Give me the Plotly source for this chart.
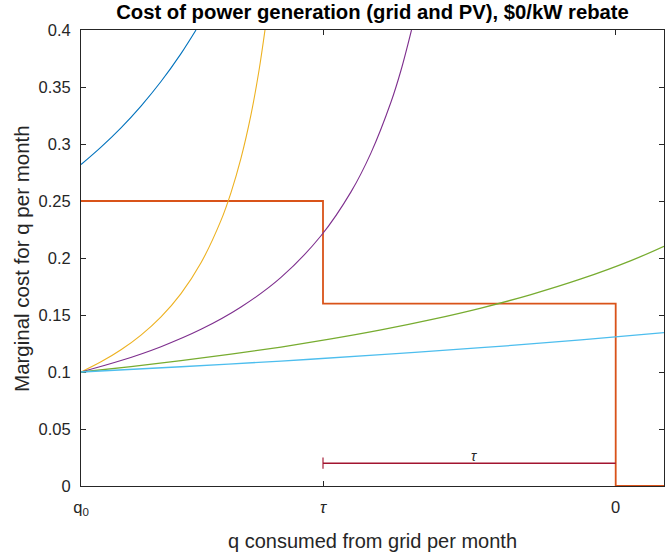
import plotly.graph_objects as go

# x positions (arbitrary q units; q0 on the left, 0 near the right)
X_Q0 = 0.0
X_TAU = 2.42
X_ZERO = 5.347
X_MAX = 5.83

tick_vals = [X_Q0, X_TAU, X_ZERO]
tick_text = ["q<sub>0</sub>", "<i>τ</i>", "0"]
y_tick_vals = [0, 0.05, 0.1, 0.15, 0.2, 0.25, 0.3, 0.35, 0.4]
y_tick_text = ["0", "0.05", "0.1", "0.15", "0.2", "0.25", "0.3", "0.35", "0.4"]

# series
blue_x = [0, 0.2, 0.4, 0.6, 0.8, 1.0, 1.15]
blue_y = [0.282, 0.2973, 0.3142, 0.3333, 0.3548, 0.3793, 0.400]

step_x = [X_Q0, X_TAU, X_TAU, X_ZERO, X_ZERO, X_MAX]
step_y = [0.25, 0.25, 0.16, 0.16, 0.0, 0.0]

yellow_x = [0, 0.2, 0.4, 0.6, 0.8, 1.0, 1.2, 1.4, 1.5, 1.6, 1.7, 1.78, 1.84]
yellow_y = [0.100, 0.1089, 0.1195, 0.1324, 0.1484, 0.1688, 0.1958, 0.2330,
            0.2574, 0.2876, 0.3258, 0.3645, 0.400]

purple_x = [0, 0.4, 0.8, 1.2, 1.6, 2.0, 2.4, 2.7, 2.9, 3.1, 3.2, 3.305]
purple_y = [0.100, 0.1100, 0.1222, 0.1374, 0.1570, 0.1830, 0.2195, 0.2580,
            0.2922, 0.3368, 0.3647, 0.400]

green_x = [0, 0.5, 1, 1.5, 2, 2.5, 3, 3.5, 4, 4.5, 5, 5.5, 5.83]
green_y = [0.100, 0.1047, 0.1099, 0.1156, 0.1219, 0.1290, 0.1369, 0.1459,
           0.1561, 0.1679, 0.1816, 0.1977, 0.2103]

cyan_x = [0, 1, 2, 3, 4, 5, 5.83]
cyan_y = [0.100, 0.1046, 0.1096, 0.1152, 0.1213, 0.1281, 0.1345]

tau_x = [X_TAU, X_ZERO]
tau_y = [0.02, 0.02]
tau_label = "τ"
tau_label_y = 0.026

C_BLUE = "#0072BD"
C_ORANGE = "#D95319"
C_YELLOW = "#EDB120"
C_PURPLE = "#7E2F8E"
C_GREEN = "#77AC30"
C_CYAN = "#4DBEEE"
C_DARKRED = "#A2142F"

FONT = "Liberation Sans, Arial, sans-serif"
AX = "#262626"

fig = go.Figure()

def add_line(x, y, color, width=1.1, shape="spline"):
    fig.add_trace(go.Scatter(x=x, y=y, mode="lines",
                             line=dict(color=color, width=width, shape=shape),
                             showlegend=False, hoverinfo="skip"))

add_line(blue_x, blue_y, C_BLUE)
add_line(step_x, step_y, C_ORANGE, width=1.8, shape="linear")
add_line(yellow_x, yellow_y, C_YELLOW)
add_line(purple_x, purple_y, C_PURPLE)
add_line(green_x, green_y, C_GREEN, width=1.3)
add_line(cyan_x, cyan_y, C_CYAN, width=1.3)

fig.add_trace(go.Scatter(
    x=tau_x, y=tau_y, mode="lines+markers",
    line=dict(color=C_DARKRED, width=1.6),
    marker=dict(symbol="line-ns", size=[8, 0], color=C_DARKRED,
                line=dict(color=C_DARKRED, width=1.6)),
    showlegend=False, hoverinfo="skip"))

fig.add_annotation(x=(X_TAU + X_ZERO) / 2, y=tau_label_y, xref="x", yref="y",
                   text="<i>" + tau_label + "</i>", showarrow=False,
                   xanchor="left", yanchor="middle",
                   font=dict(family=FONT, size=14, color=AX))

# axis titles
fig.add_annotation(x=0.5, y=-0.121, xref="paper", yref="paper",
                   text="q consumed from grid per month", showarrow=False,
                   xanchor="center", yanchor="middle",
                   font=dict(family=FONT, size=20, color=AX))
fig.add_annotation(x=-0.103, y=0.5, xref="paper", yref="paper",
                   text="Marginal cost for q per month", showarrow=False,
                   textangle=-90, xanchor="center", yanchor="middle",
                   font=dict(family=FONT, size=20.5, color=AX))

fig.update_layout(
    width=665, height=558,
    margin=dict(l=81, r=1, t=30, b=72),
    paper_bgcolor="white", plot_bgcolor="white",
    title=dict(text="<b>Cost of power generation (grid and PV), $0/kW rebate</b>",
               x=0.5, xref="paper", y=1 - 12 / 558, yref="container",
               xanchor="center", yanchor="middle",
               font=dict(family=FONT, size=20.3, color="black")),
    xaxis=dict(range=[X_Q0, X_MAX], tickvals=tick_vals, ticktext=tick_text,
               showgrid=False, zeroline=False, showline=True, linecolor=AX,
               linewidth=1, mirror="ticks", ticks="inside", ticklen=5,
               tickcolor=AX, tickwidth=1, ticklabelstandoff=6,
               tickfont=dict(family=FONT, size=16.5, color=AX),
               layer="below traces"),
    yaxis=dict(range=[0, 0.4], tickvals=y_tick_vals, ticktext=y_tick_text,
               showgrid=False, zeroline=False, showline=True, linecolor=AX,
               linewidth=1, mirror="ticks", ticks="inside", ticklen=5,
               tickcolor=AX, tickwidth=1, ticklabelstandoff=6,
               tickfont=dict(family=FONT, size=16.5, color=AX),
               layer="below traces"),
)

# remove the browser's default 8px body margin so the figure fills the window
fig.write_html("out.html", config={"displayModeBar": False},
               post_script="document.body.style.margin='0';")
